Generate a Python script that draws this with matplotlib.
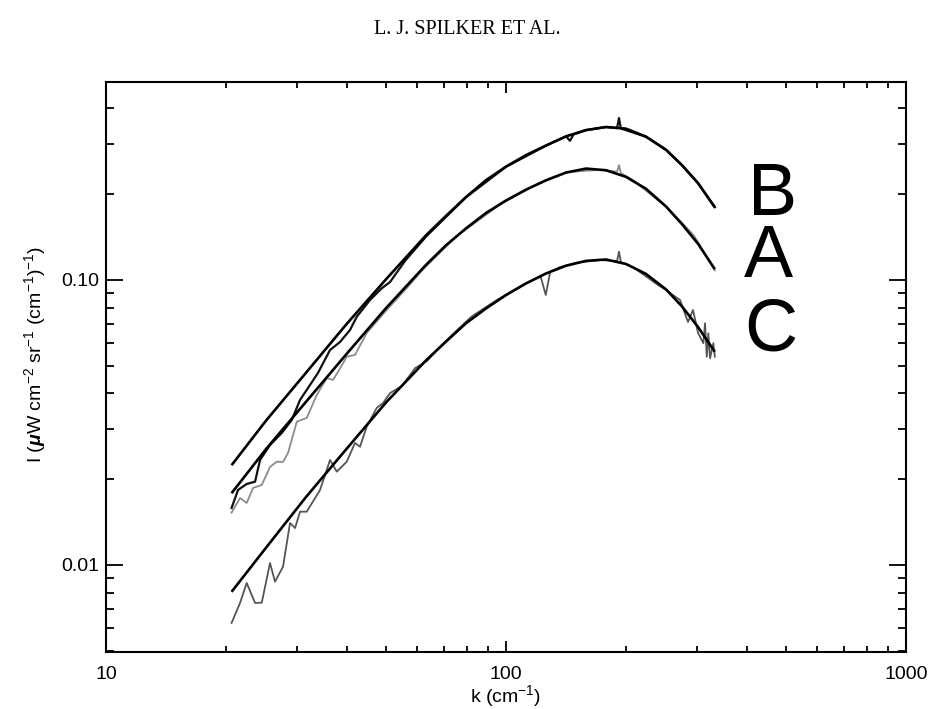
import numpy as np
import matplotlib
matplotlib.use("Agg")
import matplotlib.pyplot as plt
from matplotlib.ticker import LogLocator, NullFormatter, FixedLocator, FixedFormatter

plt.rcParams['font.family'] = ['Liberation Sans', 'DejaVu Sans']
plt.rcParams['mathtext.fontset'] = 'custom'
plt.rcParams['mathtext.rm'] = 'Liberation Sans'
plt.rcParams['mathtext.it'] = 'Liberation Sans:italic:bold'

# blackbody fits
k_fit = [20.6, 25.1, 31.6, 39.8, 50.1, 63.1, 70.8, 79.4, 89.1, 100.0, 112.2, 125.9, 141.3,
         158.5, 177.8, 199.5, 223.9, 251.2, 275.4, 302.0, 332.7]
I_fit_B = [0.02239, 0.03206, 0.04721, 0.06966, 0.1005, 0.1435, 0.1679, 0.1954, 0.2239, 0.2500,
           0.2742, 0.2965, 0.3192, 0.3357, 0.3443, 0.3396, 0.3184, 0.2864, 0.2529, 0.2188, 0.1799]
I_fit_A = [0.01786, 0.02547, 0.03733, 0.05470, 0.07962, 0.1130, 0.1324, 0.1517, 0.1718, 0.1901,
           0.2075, 0.2239, 0.2382, 0.2460, 0.2427, 0.2301, 0.2089, 0.1811, 0.1570, 0.1340, 0.1091]
I_fit_C = [0.00805, 0.01148, 0.01730, 0.02541, 0.03715, 0.05224, 0.06081, 0.07047, 0.07943,
           0.08851, 0.09727, 0.1054, 0.1122, 0.1167, 0.1180, 0.1138, 0.1050, 0.09268, 0.08072,
           0.06839, 0.05598]

# measured spectra
k_B = [20.6, 21.38, 22.47, 23.58, 24.27, 25.70, 27.50, 29.13, 30.55, 31.99, 33.88, 36.31, 38.46,
       40.74, 42.35, 45.71, 48.9, 51.3, 56.0, 63.1, 79.4, 100.0, 125.9, 141.3, 144.5, 147.5,
       158.5, 177.8, 189.5, 191.6, 193.7, 223.9, 251.2, 275.4, 302.0, 332.7]
I_B = [0.01585, 0.01833, 0.01924, 0.01960, 0.02336, 0.02637, 0.02905, 0.03228, 0.03793, 0.04180,
       0.0472, 0.0568, 0.0606, 0.0668, 0.0743, 0.0851, 0.0935, 0.0984, 0.117, 0.142, 0.1950,
       0.2495, 0.2960, 0.3190, 0.3080, 0.3240, 0.3355, 0.3440, 0.3410, 0.3700, 0.3400, 0.3180,
       0.2860, 0.2525, 0.2185, 0.1800]

k_A = [20.6, 21.63, 22.47, 23.31, 24.51, 25.70, 26.72, 27.70, 28.51, 29.99, 31.75, 33.64, 35.63,
       36.94, 38.02, 39.98, 41.93, 44.86, 50.33, 56.47, 62.0, 75.3, 96.6, 116.8, 141.8, 171.8,
       189.5, 191.6, 193.7, 207.7, 252.2, 290.0, 296.0, 305.5, 318.0, 332.7]
I_A = [0.01526, 0.01718, 0.01650, 0.01863, 0.01909, 0.02208, 0.02304, 0.02298, 0.02472, 0.03183,
       0.0328, 0.0395, 0.0453, 0.0446, 0.0476, 0.0538, 0.0546, 0.0652, 0.0785, 0.0937, 0.109,
       0.1425, 0.1840, 0.2130, 0.2390, 0.2435, 0.2400, 0.2530, 0.2370, 0.2240, 0.1800, 0.1470,
       0.1420, 0.1320, 0.1200, 0.1080]

k_C = [20.6, 21.63, 22.47, 23.58, 24.51, 25.70, 26.45, 27.70, 28.84, 29.69, 30.55, 31.75, 34.28,
       36.31, 37.75, 39.98, 41.93, 43.15, 44.86, 47.53, 49.26, 51.3, 55.0, 59.2, 63.5, 68.4, 75.3,
       82.1, 94.8, 110.3, 122.0, 125.7, 129.0, 136.5, 150.0, 171.8, 189.5, 191.6, 193.7, 207.7,
       240.0, 252.2, 260.0, 272.3, 285.1, 293.4, 302.0, 311.4, 314.5, 317.6, 320.5, 323.6, 329.8,
       332.7]
I_C = [0.00626, 0.00736, 0.00865, 0.00736, 0.00737, 0.01016, 0.00874, 0.00986, 0.01404, 0.01348,
       0.01538, 0.01538, 0.01833, 0.02336, 0.02125, 0.02304, 0.0268, 0.0260, 0.0306, 0.0356,
       0.0370, 0.0401, 0.0425, 0.0490, 0.0520, 0.0583, 0.0665, 0.0745, 0.0850, 0.0961, 0.1030,
       0.0886, 0.1070, 0.1110, 0.1150, 0.1175, 0.1165, 0.1257, 0.1155, 0.1110, 0.0960, 0.0920,
       0.0890, 0.0851, 0.0712, 0.0785, 0.0652, 0.0600, 0.0705, 0.0538, 0.0650, 0.0531, 0.0600,
       0.0538]

labels = ['B', 'A', 'C']
label_k = [465, 452, 460]
label_I = [0.169, 0.1025, 0.0564]

fig = plt.figure(figsize=(9.35, 7.09), dpi=100)
ax = fig.add_axes([0.1134, 0.0804, 0.8556, 0.8039])

ax.plot(k_A, I_A, color='#8c8c8c', lw=1.3)
ax.plot(k_C, I_C, color='#555555', lw=1.3)
ax.plot(k_B, I_B, color='#111111', lw=1.6)
for ii in [I_fit_B, I_fit_A, I_fit_C]:
    ax.plot(k_fit, ii, color='black', lw=1.9, solid_capstyle='butt', solid_joinstyle='round')

for s, x, y in zip(labels, label_k, label_I):
    ax.text(x, y, s, fontsize=53, ha='center', va='baseline')

ax.set_xscale('log')
ax.set_yscale('log')
ax.set_xlim(10, 1000)
ax.set_ylim(0.00495, 0.495)

ax.xaxis.set_major_locator(FixedLocator([10, 100, 1000]))
ax.xaxis.set_major_formatter(FixedFormatter(['10', '100', '1000']))
ax.xaxis.set_minor_locator(LogLocator(base=10, subs=np.arange(2, 10)))
ax.xaxis.set_minor_formatter(NullFormatter())
ax.yaxis.set_major_locator(FixedLocator([0.01, 0.1]))
ax.yaxis.set_major_formatter(FixedFormatter(['0.01', '0.10']))
ax.yaxis.set_minor_locator(LogLocator(base=10, subs=np.arange(2, 10)))
ax.yaxis.set_minor_formatter(NullFormatter())

ax.tick_params(which='both', direction='in', top=True, right=True, width=1.3, labelsize=14)
ax.tick_params(axis='x', which='major', length=8, pad=10)
ax.tick_params(axis='x', which='minor', length=4.5)
ax.tick_params(axis='y', which='major', length=12, pad=5)
ax.tick_params(axis='y', which='minor', length=6)
for sp in ax.spines.values():
    sp.set_linewidth(1.5)

ax.set_xlabel(r'k (cm$^{-1}$)', fontsize=14, labelpad=0.5)
fig.text(0.037, 0.5, r'I ($\mu$W cm$^{-2}$ sr$^{-1}$ (cm$^{-1}$)$^{-1}$)', fontsize=14,
         rotation=90, ha='center', va='center')

fig.text(0.4995, 0.958, 'L. J. SPILKER ET AL.', fontsize=14.5, family='Liberation Serif',
         ha='center', va='center')

fig.savefig('out.png', dpi=100, facecolor='white')
